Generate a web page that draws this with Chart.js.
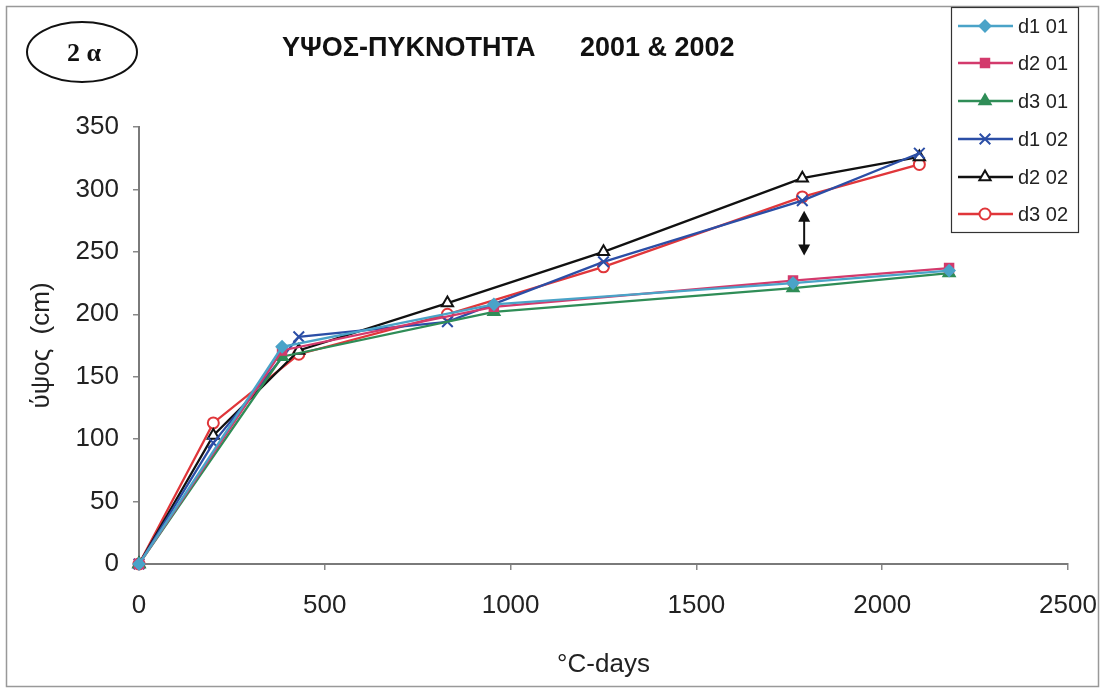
<!DOCTYPE html>
<html>
<head>
<meta charset="utf-8">
<script src="https://cdn.jsdelivr.net/npm/chart.js"></script>
<style>
  html, body { margin: 0; padding: 0; background: #ffffff; }
  #wrap { width: 1104px; height: 690px; position: relative; }
</style>
</head>
<body>
<div id="wrap"><canvas id="c" width="1104" height="690"></canvas></div>
<script>
// Thermal time (°C-days) at each measurement date
const days2001 = [0, 385, 955, 1760, 2180];
const days2002 = [0, 200, 430, 830, 1250, 1785, 2100];

// Plant height (cm) per sowing density
const d1_01 = [0, 174, 208, 225, 235];
const d2_01 = [0, 171, 206, 227, 237];
const d3_01 = [0, 166, 202, 221, 233];
const d1_02 = [0, 97, 182, 194, 242, 291, 329];
const d2_02 = [0, 103, 171, 209, 250, 309, 326];
const d3_02 = [0, 113, 168, 200, 238, 294, 320];

const seriesNames = ['d1 01', 'd2 01', 'd3 01', 'd1 02', 'd2 02', 'd3 02'];
const xTicks = [0, 500, 1000, 1500, 2000, 2500];
const yTicks = [0, 50, 100, 150, 200, 250, 300, 350];

// Gap between the 2001 and 2002 curves marked with a double arrow
const arrowAt = { x: 1790, yFrom: 283, yTo: 247 };

const pairs = (xs, ys) => xs.map((x, i) => ({ x: x, y: ys[i] }));

const styles = [
  { color: '#4aa3c8', fill: '#4aa3c8', pointStyle: 'rectRot', radius: 5.5 },
  { color: '#d33a6c', fill: '#d33a6c', pointStyle: 'rect', radius: 6 },
  { color: '#2f8d57', fill: '#2f8d57', pointStyle: 'triangle', radius: 6.5 },
  { color: '#2b4ea6', fill: '#2b4ea6', pointStyle: 'crossRot', radius: 7.5 },
  { color: '#111111', fill: '#ffffff', pointStyle: 'triangle', radius: 6.5 },
  { color: '#e0363a', fill: '#ffffff', pointStyle: 'circle', radius: 5.5 }
];

const seriesData = [
  pairs(days2001, d1_01), pairs(days2001, d2_01), pairs(days2001, d3_01),
  pairs(days2002, d1_02), pairs(days2002, d2_02), pairs(days2002, d3_02)
];

const datasets = seriesNames.map((name, i) => ({
  label: name,
  data: seriesData[i],
  showLine: true,
  borderColor: styles[i].color,
  backgroundColor: styles[i].fill,
  borderWidth: 2.3,
  pointStyle: styles[i].pointStyle,
  pointRadius: styles[i].radius,
  pointBorderColor: styles[i].color,
  pointBackgroundColor: styles[i].fill,
  pointBorderWidth: 2,
  clip: false,
  tension: 0
}));

function drawMarker(ctx, st, x, y) {
  ctx.save();
  ctx.fillStyle = st.fill;
  ctx.strokeStyle = st.color;
  ctx.lineWidth = 2;
  if (window.Chart && Chart.helpers && Chart.helpers.drawPoint) {
    Chart.helpers.drawPoint(ctx, { pointStyle: st.pointStyle, radius: st.radius, rotation: 0, borderWidth: 2 }, x, y);
  } else {
    ctx.beginPath();
    ctx.arc(x, y, st.radius, 0, Math.PI * 2);
    ctx.fill();
    ctx.stroke();
  }
  ctx.restore();
}

const decorations = {
  id: 'decorations',
  beforeDraw(chart) {
    const ctx = chart.ctx;
    ctx.save();
    ctx.fillStyle = '#ffffff';
    ctx.fillRect(0, 0, chart.width, chart.height);
    ctx.restore();
  },
  afterDatasetsDraw(chart) {
    const ctx = chart.ctx;
    const xs = chart.scales.x, ys = chart.scales.y;
    const ax = xs.getPixelForValue(arrowAt.x);
    const ay1 = ys.getPixelForValue(arrowAt.yFrom);
    const ay2 = ys.getPixelForValue(arrowAt.yTo);
    ctx.save();
    ctx.strokeStyle = '#111';
    ctx.fillStyle = '#111';
    ctx.lineWidth = 2;
    ctx.beginPath();
    ctx.moveTo(ax, ay1 + 8);
    ctx.lineTo(ax, ay2 - 8);
    ctx.stroke();
    ctx.beginPath();
    ctx.moveTo(ax, ay1);
    ctx.lineTo(ax - 6, ay1 + 11);
    ctx.lineTo(ax + 6, ay1 + 11);
    ctx.closePath();
    ctx.fill();
    ctx.beginPath();
    ctx.moveTo(ax, ay2);
    ctx.lineTo(ax - 6, ay2 - 11);
    ctx.lineTo(ax + 6, ay2 - 11);
    ctx.closePath();
    ctx.fill();
    ctx.restore();
  },
  afterDraw(chart) {
    const ctx = chart.ctx;
    ctx.save();

    // outer frame
    ctx.strokeStyle = '#999';
    ctx.lineWidth = 1.5;
    ctx.strokeRect(6.5, 6.5, 1092, 680);

    // panel label
    ctx.strokeStyle = '#111';
    ctx.lineWidth = 2;
    ctx.beginPath();
    ctx.ellipse(82, 52, 55, 30, 0, 0, Math.PI * 2);
    ctx.stroke();
    ctx.fillStyle = '#111';
    ctx.font = 'bold 26px "Liberation Serif", "DejaVu Serif", serif';
    ctx.textAlign = 'center';
    ctx.textBaseline = 'middle';
    ctx.fillText('2 α', 84, 54);

    // title
    ctx.font = 'bold 27px "Liberation Sans", Arial, sans-serif';
    ctx.textBaseline = 'alphabetic';
    ctx.textAlign = 'left';
    ctx.fillText('ΥΨΟΣ-ΠΥΚΝΟΤΗΤΑ', 282, 56);
    ctx.fillText('2001 & 2002', 580, 56);

    // legend
    const lx = 951.5, ly = 7.5, lw = 127, lh = 225;
    ctx.fillStyle = '#ffffff';
    ctx.fillRect(lx, ly, lw, lh);
    ctx.strokeStyle = '#333';
    ctx.lineWidth = 1.2;
    ctx.strokeRect(lx, ly, lw, lh);
    const rowY = [26, 63, 101, 139, 177, 214];
    chart.data.datasets.forEach((ds, i) => {
      const y = rowY[i];
      ctx.strokeStyle = styles[i].color;
      ctx.lineWidth = 2.3;
      ctx.beginPath();
      ctx.moveTo(958, y);
      ctx.lineTo(1013, y);
      ctx.stroke();
      drawMarker(ctx, styles[i], 985, y);
      ctx.fillStyle = '#222';
      ctx.font = '20px "Liberation Sans", Arial, sans-serif';
      ctx.textAlign = 'left';
      ctx.textBaseline = 'middle';
      ctx.fillText(ds.label, 1018, y + 1);
    });
    ctx.restore();
  }
};

const tickFont = { family: '"Liberation Sans", Arial, sans-serif', size: 26 };

new Chart(document.getElementById('c'), {
  type: 'scatter',
  data: { datasets: datasets },
  options: {
    responsive: false,
    animation: false,
    devicePixelRatio: 1,
    layout: { padding: { left: 14, right: 36, top: 127, bottom: 10 } },
    plugins: {
      legend: { display: false },
      tooltip: { enabled: false },
      title: { display: false }
    },
    scales: {
      x: {
        type: 'linear',
        min: xTicks[0],
        max: xTicks[xTicks.length - 1],
        afterBuildTicks(s) { s.ticks = xTicks.map(v => ({ value: v })); },
        afterFit(s) { s.height = 116; s.paddingLeft = 0; s.paddingRight = 0; },
        grid: { drawOnChartArea: false, drawTicks: true, tickLength: 6, color: '#888', lineWidth: 1.5 },
        border: { display: true, color: '#7a7a7a', width: 2 },
        ticks: { color: '#222', font: tickFont, padding: 20, maxRotation: 0, callback: v => String(v) },
        title: {
          display: true,
          text: '°C-days',
          color: '#222',
          font: { family: '"Liberation Sans", Arial, sans-serif', size: 26 },
          padding: { top: 0, bottom: 0 }
        }
      },
      y: {
        type: 'linear',
        min: yTicks[0],
        max: yTicks[yTicks.length - 1],
        afterBuildTicks(s) { s.ticks = yTicks.map(v => ({ value: v })); },
        afterFit(s) { s.width = 125; s.paddingTop = 0; s.paddingBottom = 0; },
        grid: { drawOnChartArea: false, drawTicks: true, tickLength: 6, color: '#888', lineWidth: 1.5 },
        border: { display: true, color: '#7a7a7a', width: 2 },
        ticks: { color: '#222', font: tickFont, padding: 14, callback: v => String(v) },
        title: {
          display: true,
          text: 'ύψος  (cm)',
          color: '#222',
          font: { family: '"Liberation Sans", Arial, sans-serif', size: 26 },
          padding: { top: 12, bottom: 0 }
        }
      }
    }
  },
  plugins: [decorations]
});
</script>
</body>
</html>
